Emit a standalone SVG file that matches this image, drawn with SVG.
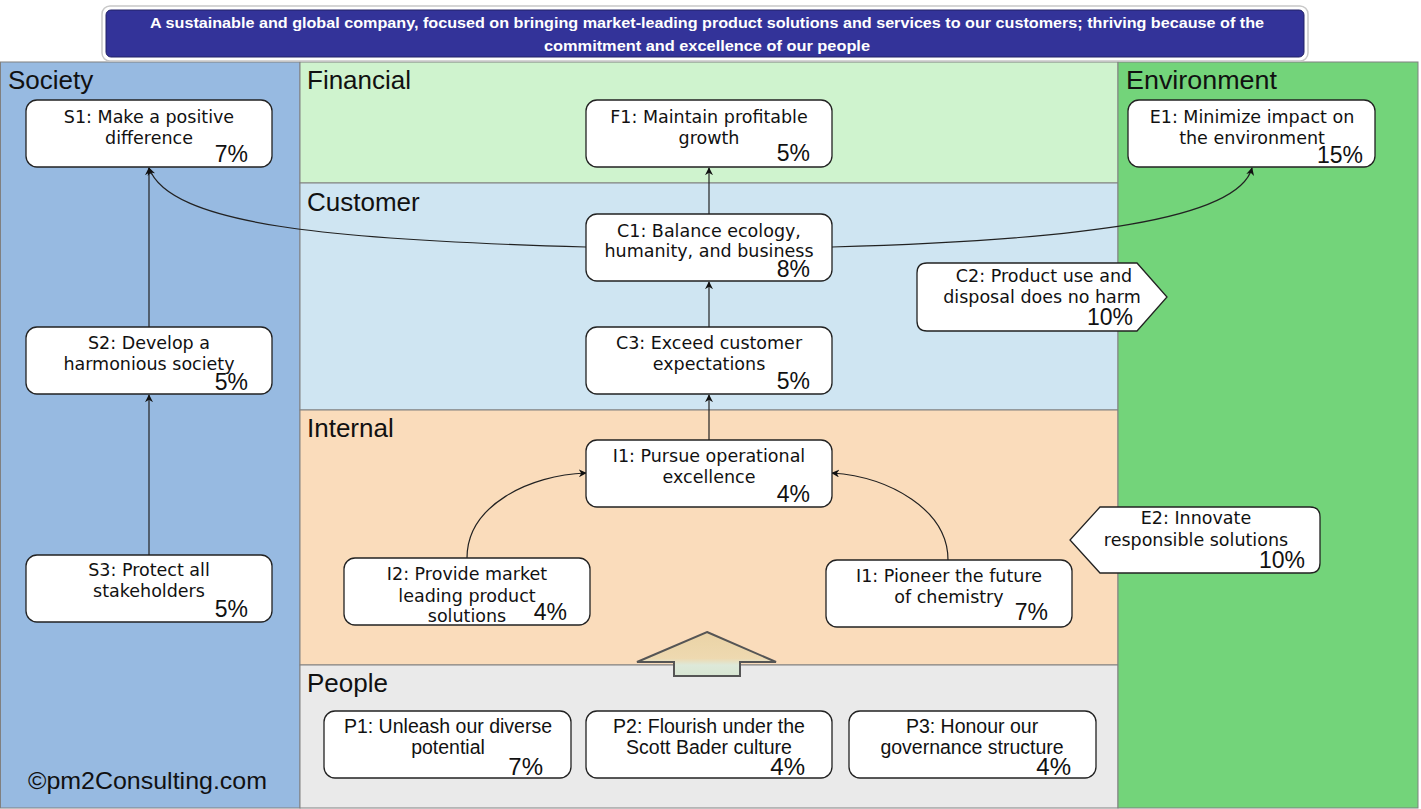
<svg xmlns="http://www.w3.org/2000/svg" width="1421" height="809" viewBox="0 0 1421 809">
<defs>
<style>
.panel{stroke:#808080;stroke-width:1}
.title{font-family:"Liberation Sans",Arial,sans-serif;font-size:26px;fill:#111}
.node{fill:#fff;stroke:#222;stroke-width:1.3}
.t{font-family:"DejaVu Sans",Verdana,sans-serif;font-size:17.5px;fill:#111;text-anchor:middle}
.pt{font-family:"Liberation Sans Narrow","Liberation Sans",Arial,sans-serif;font-size:19.5px;fill:#111;text-anchor:middle}
.pc{font-family:"Liberation Sans",Arial,sans-serif;font-size:23px;fill:#111;text-anchor:end}
.pcn{font-family:"Liberation Sans Narrow","Liberation Sans",Arial,sans-serif;font-size:24px;fill:#111;text-anchor:end}
.conn{fill:none;stroke:#222;stroke-width:1.2;marker-end:url(#ah)}
.hdr{font-family:"Liberation Sans",Arial,sans-serif;font-weight:bold;font-size:15px;fill:#fff;text-anchor:middle}
</style>
<marker id="ah" viewBox="0 0 10 10" refX="9" refY="5" markerWidth="8" markerHeight="8" markerUnits="userSpaceOnUse" orient="auto">
<path d="M0,0 L10,5 L0,10 L3,5 z" fill="#111"/>
</marker>
<linearGradient id="bigArrow" x1="0" y1="0" x2="0" y2="1">
<stop offset="0" stop-color="#EAD3A6"/>
<stop offset="0.6" stop-color="#EED9B0"/>
<stop offset="0.75" stop-color="#DDE9D9"/>
<stop offset="1" stop-color="#D8E6D3"/>
</linearGradient>
</defs>

<g id="panels">
<rect id="society-panel" class="panel" x="0.5" y="62" width="299.5" height="746" fill="#97BAE1"/>
<rect id="financial-panel" class="panel" x="300" y="62" width="818" height="121" fill="#CFF3CE"/>
<rect id="customer-panel" class="panel" x="300" y="183" width="818" height="227" fill="#CFE5F2"/>
<rect id="internal-panel" class="panel" x="300" y="410" width="818" height="255" fill="#FADCBB"/>
<rect id="people-panel" class="panel" x="300" y="665" width="818" height="143" fill="#EAEAEA"/>
<rect id="environment-panel" class="panel" x="1118" y="62" width="300" height="746" fill="#73D47A"/>
<text class="title" x="8" y="89">Society</text>
<text class="title" x="307" y="89">Financial</text>
<text class="title" x="307" y="211">Customer</text>
<text class="title" x="307" y="437">Internal</text>
<text class="title" x="307" y="692" style="font-family:'Liberation Sans Narrow','Liberation Sans',Arial,sans-serif">People</text>
<text class="title" x="1126" y="89" textLength="151" lengthAdjust="spacingAndGlyphs">Environment</text>
<text x="28" y="789" style="font-family:'Liberation Sans',Arial,sans-serif;font-size:24px;fill:#111" textLength="239" lengthAdjust="spacingAndGlyphs">©pm2Consulting.com</text>
</g>

<g id="header">
<rect x="102" y="6" width="1206" height="55" rx="8" fill="#fff" stroke="#c8c8c8" stroke-width="1.5"/>
<rect x="106" y="10" width="1198" height="47" rx="5" fill="#333399" stroke="#222266" stroke-width="1"/>
<text class="hdr" x="707" y="28" textLength="1114" lengthAdjust="spacingAndGlyphs">A sustainable and global company, focused on bringing market-leading product solutions and services to our customers; thriving because of the</text>
<text class="hdr" x="707" y="51" textLength="326" lengthAdjust="spacingAndGlyphs">commitment and excellence of our people</text>
</g>

<g id="connectors">
<line class="conn" x1="149" y1="555" x2="149" y2="395"/>
<line class="conn" x1="149" y1="327" x2="149" y2="168"/>
<line class="conn" x1="709" y1="214" x2="709" y2="168"/>
<line class="conn" x1="709" y1="327" x2="709" y2="282"/>
<line class="conn" x1="709" y1="440" x2="709" y2="395"/>
<path class="conn" d="M586,247 C 330,240 170,225 149,168"/>
<path class="conn" d="M832,247 C 1080,240 1238,220 1252,168"/>
<path class="conn" d="M467,558 C 467,505 530,475 586,473"/>
<path class="conn" d="M948,560 C 948,510 890,477 832,473"/>
</g>

<g id="big-arrow">
<path d="M707,632 L776,662 L740,662 L740,676 L674,676 L674,662 L637,662 Z" fill="url(#bigArrow)" stroke="#555" stroke-width="2" stroke-linejoin="miter"/>
</g>

<g id="S1">
<rect class="node" x="26" y="100" width="246" height="67" rx="11"/>
<text class="t" x="149" y="123">S1: Make a positive</text>
<text class="t" x="149" y="144">difference</text>
<text class="pc" x="248" y="162">7%</text>
</g>
<g id="F1">
<rect class="node" x="586" y="100" width="246" height="67" rx="11"/>
<text class="t" x="709" y="123">F1: Maintain profitable</text>
<text class="t" x="709" y="144">growth</text>
<text class="pc" x="810" y="161">5%</text>
</g>
<g id="E1">
<rect class="node" x="1128" y="100" width="247" height="67" rx="11"/>
<text class="t" x="1252" y="123">E1: Minimize impact on</text>
<text class="t" x="1252" y="144">the environment</text>
<text class="pc" x="1363" y="163">15%</text>
</g>
<g id="C1">
<rect class="node" x="586" y="214" width="246" height="67" rx="11"/>
<text class="t" x="709" y="237">C1: Balance ecology,</text>
<text class="t" x="709" y="257">humanity, and business</text>
<text class="pc" x="810" y="277">8%</text>
</g>
<g id="C2">
<path class="node" d="M927,263 L1137,263 L1167,297 L1137,331 L927,331 Q917,331 917,321 L917,273 Q917,263 927,263 Z"/>
<text class="t" x="1044" y="282">C2: Product use and</text>
<text class="t" x="1042" y="303">disposal does no harm</text>
<text class="pc" x="1133" y="325">10%</text>
</g>
<g id="C3">
<rect class="node" x="586" y="327" width="246" height="67" rx="11"/>
<text class="t" x="709" y="349">C3: Exceed customer</text>
<text class="t" x="709" y="370">expectations</text>
<text class="pc" x="810" y="389">5%</text>
</g>
<g id="S2">
<rect class="node" x="26" y="327" width="246" height="67" rx="11"/>
<text class="t" x="149" y="349">S2: Develop a</text>
<text class="t" x="149" y="370">harmonious society</text>
<text class="pc" x="248" y="390">5%</text>
</g>
<g id="I1">
<rect class="node" x="586" y="440" width="246" height="67" rx="11"/>
<text class="t" x="709" y="462">I1: Pursue operational</text>
<text class="t" x="709" y="483">excellence</text>
<text class="pc" x="810" y="502">4%</text>
</g>
<g id="I2">
<rect class="node" x="344" y="558" width="246" height="67" rx="11"/>
<text class="t" x="467" y="580">I2: Provide market</text>
<text class="t" x="467" y="602">leading product</text>
<text class="t" x="467" y="622">solutions</text>
<text class="pc" x="567" y="620">4%</text>
</g>
<g id="I1b">
<rect class="node" x="826" y="560" width="246" height="67" rx="11"/>
<text class="t" x="949" y="582">I1: Pioneer the future</text>
<text class="t" x="949" y="603">of chemistry</text>
<text class="pc" x="1048" y="620">7%</text>
</g>
<g id="E2">
<path class="node" d="M1100,507 L1310,507 Q1320,507 1320,517 L1320,563 Q1320,573 1310,573 L1100,573 L1070,540 Z"/>
<text class="t" x="1196" y="524">E2: Innovate</text>
<text class="t" x="1196" y="546">responsible solutions</text>
<text class="pc" x="1305" y="568">10%</text>
</g>
<g id="S3">
<rect class="node" x="26" y="555" width="246" height="67" rx="11"/>
<text class="t" x="149" y="576">S3: Protect all</text>
<text class="t" x="149" y="597">stakeholders</text>
<text class="pc" x="248" y="617">5%</text>
</g>
<g id="P1">
<rect class="node" x="324" y="711" width="247" height="67" rx="11"/>
<text class="pt" x="448" y="733">P1: Unleash our diverse</text>
<text class="pt" x="448" y="754">potential</text>
<text class="pcn" x="543" y="775">7%</text>
</g>
<g id="P2">
<rect class="node" x="586" y="711" width="246" height="67" rx="11"/>
<text class="pt" x="709" y="733">P2: Flourish under the</text>
<text class="pt" x="709" y="754">Scott Bader culture</text>
<text class="pcn" x="805" y="775">4%</text>
</g>
<g id="P3">
<rect class="node" x="849" y="711" width="247" height="67" rx="11"/>
<text class="pt" x="972" y="733">P3: Honour our</text>
<text class="pt" x="972" y="754">governance structure</text>
<text class="pcn" x="1071" y="775">4%</text>
</g>
</svg>
